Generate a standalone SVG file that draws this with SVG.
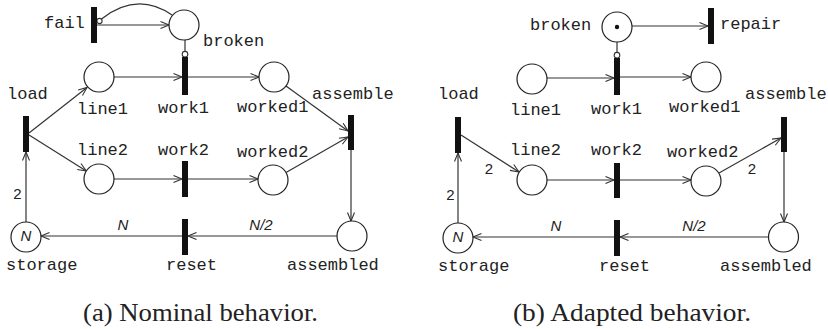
<svg xmlns="http://www.w3.org/2000/svg" width="828" height="329" viewBox="0 0 828 329">
  <defs>
    <marker id="arrow" markerUnits="userSpaceOnUse" markerWidth="12" markerHeight="10" refX="9" refY="4" orient="auto">
      <path d="M0.5,0.5 L9,4 L0.5,7.5" fill="none" stroke="#333" stroke-width="1.1"/>
    </marker>
  </defs>
  <style>
    .place { fill: #fff; stroke: #222; stroke-width: 1.2; }
    .trans { fill: #111; }
    .arc { fill: none; stroke: #333; stroke-width: 1.2; }
    .inh { fill: #fff; stroke: #333; stroke-width: 1.1; }
    .lbl { font-family: "Liberation Mono", "DejaVu Sans Mono", monospace; font-size: 17px; fill: #222; }
    .w { font-family: "Liberation Sans", Arial, sans-serif; font-size: 15px; fill: #222; }
    .wi { font-style: italic; }
    .cap { font-family: "Liberation Serif", "DejaVu Serif", serif; font-size: 26px; fill: #222; }
  </style>
  <rect width="828" height="329" fill="#fff"/>

  <!-- ===== (a) nominal net ===== -->
  <g id="a-connectors">
    <line class="arc" x1="97" y1="25" x2="169" y2="25" marker-end="url(#arrow)"/>
    <path class="arc" d="M101.5,19 Q137,-9 172,15"/>
    <circle class="inh" cx="99.5" cy="21" r="2.6"/>
    <line class="arc" x1="185" y1="40" x2="185" y2="51.5"/>
    <circle class="inh" cx="185" cy="54.2" r="2.8"/>
    <line class="arc" x1="114" y1="77" x2="182" y2="77" marker-end="url(#arrow)"/>
    <line class="arc" x1="188" y1="77" x2="259" y2="77" marker-end="url(#arrow)"/>
    <line class="arc" x1="29" y1="133" x2="87" y2="87.5" marker-end="url(#arrow)"/>
    <line class="arc" x1="29" y1="135" x2="86.3" y2="171" marker-end="url(#arrow)"/>
    <line class="arc" x1="114" y1="179" x2="182" y2="179" marker-end="url(#arrow)"/>
    <line class="arc" x1="188" y1="179" x2="258" y2="179" marker-end="url(#arrow)"/>
    <line class="arc" x1="286" y1="86" x2="348" y2="131" marker-end="url(#arrow)"/>
    <line class="arc" x1="286" y1="172.5" x2="348" y2="137" marker-end="url(#arrow)"/>
    <line class="arc" x1="351" y1="150" x2="351" y2="221" marker-end="url(#arrow)"/>
    <line class="arc" x1="337" y1="236" x2="188" y2="236" marker-end="url(#arrow)"/>
    <line class="arc" x1="182" y1="236" x2="41" y2="236" marker-end="url(#arrow)"/>
    <line class="arc" x1="26" y1="222" x2="26" y2="152" marker-end="url(#arrow)"/>
    <text class="w wi" x="261" y="230" text-anchor="middle">N/2</text>
    <text class="w wi" x="123" y="230" text-anchor="middle">N</text>
    <text class="w" x="17.5" y="199" text-anchor="middle">2</text>
  </g>

  <g id="a-fail"><rect class="trans" x="91" y="7" width="6" height="36"/><text class="lbl" x="44" y="28">fail</text></g>
  <g id="a-broken"><circle class="place" cx="184" cy="25" r="15"/><text class="lbl" x="203" y="46">broken</text></g>
  <g id="a-work1"><rect class="trans" x="182" y="57" width="6" height="38"/><text class="lbl" x="158" y="113">work1</text></g>
  <g id="a-line1"><circle class="place" cx="99" cy="77" r="15"/><text class="lbl" x="77" y="114">line1</text></g>
  <g id="a-worked1"><circle class="place" cx="274" cy="77" r="15"/><text class="lbl" x="237" y="112">worked1</text></g>
  <g id="a-load"><rect class="trans" x="23" y="116" width="6" height="36"/><text class="lbl" x="7" y="99">load</text></g>
  <g id="a-line2"><circle class="place" cx="99" cy="179" r="15"/><text class="lbl" x="77" y="155">line2</text></g>
  <g id="a-work2"><rect class="trans" x="182" y="161" width="6" height="36"/><text class="lbl" x="158" y="155">work2</text></g>
  <g id="a-worked2"><circle class="place" cx="273" cy="180" r="15"/><text class="lbl" x="237" y="157">worked2</text></g>
  <g id="a-assemble"><rect class="trans" x="348" y="115" width="6" height="35"/><text class="lbl" x="312" y="99">assemble</text></g>
  <g id="a-assembled"><circle class="place" cx="352" cy="236" r="15"/><text class="lbl" x="287" y="270">assembled</text></g>
  <g id="a-reset"><rect class="trans" x="182" y="219" width="6" height="36"/><text class="lbl" x="166" y="270">reset</text></g>
  <g id="a-storage"><circle class="place" cx="26" cy="237" r="15"/><text class="w wi" x="26" y="241" font-size="11" text-anchor="middle">N</text><text class="lbl" x="6" y="270">storage</text></g>

  <!-- ===== (b) adapted net ===== -->
  <g id="b-connectors">
    <line class="arc" x1="632" y1="26" x2="708" y2="26" marker-end="url(#arrow)"/>
    <line class="arc" x1="617" y1="42" x2="617" y2="52.5"/>
    <circle class="inh" cx="617" cy="55.2" r="2.8"/>
    <line class="arc" x1="547" y1="78" x2="614" y2="78" marker-end="url(#arrow)"/>
    <line class="arc" x1="620" y1="77" x2="691" y2="77" marker-end="url(#arrow)"/>
    <line class="arc" x1="461" y1="135" x2="519" y2="172" marker-end="url(#arrow)"/>
    <line class="arc" x1="547" y1="180" x2="614" y2="180" marker-end="url(#arrow)"/>
    <line class="arc" x1="620" y1="180" x2="691" y2="180" marker-end="url(#arrow)"/>
    <line class="arc" x1="719" y1="173" x2="781" y2="138" marker-end="url(#arrow)"/>
    <line class="arc" x1="784" y1="152" x2="784" y2="222" marker-end="url(#arrow)"/>
    <line class="arc" x1="768" y1="237" x2="620" y2="237" marker-end="url(#arrow)"/>
    <line class="arc" x1="614" y1="237" x2="473" y2="237" marker-end="url(#arrow)"/>
    <line class="arc" x1="458" y1="223" x2="458" y2="153" marker-end="url(#arrow)"/>
    <text class="w" x="489" y="174" text-anchor="middle">2</text>
    <text class="w" x="752" y="174" text-anchor="middle">2</text>
    <text class="w" x="450.5" y="200" text-anchor="middle">2</text>
    <text class="w wi" x="556" y="231" text-anchor="middle">N</text>
    <text class="w wi" x="694" y="231" text-anchor="middle">N/2</text>
  </g>

  <g id="b-broken"><circle class="place" cx="617" cy="27" r="15"/><circle cx="617" cy="27" r="2.2" fill="#111"/><text class="lbl" x="530" y="30">broken</text></g>
  <g id="b-repair"><rect class="trans" x="708" y="8" width="6" height="36"/><text class="lbl" x="720" y="29">repair</text></g>
  <g id="b-work1"><rect class="trans" x="614" y="58" width="6" height="37"/><text class="lbl" x="591" y="114">work1</text></g>
  <g id="b-line1"><circle class="place" cx="532" cy="79" r="15"/><text class="lbl" x="510" y="115">line1</text></g>
  <g id="b-worked1"><circle class="place" cx="706" cy="77" r="15"/><text class="lbl" x="669" y="112">worked1</text></g>
  <g id="b-load"><rect class="trans" x="455" y="117" width="6" height="36"/><text class="lbl" x="438" y="99">load</text></g>
  <g id="b-line2"><circle class="place" cx="532" cy="180" r="15"/><text class="lbl" x="510" y="155">line2</text></g>
  <g id="b-work2"><rect class="trans" x="614" y="163" width="6" height="35"/><text class="lbl" x="591" y="155">work2</text></g>
  <g id="b-worked2"><circle class="place" cx="706" cy="181" r="15"/><text class="lbl" x="667" y="157">worked2</text></g>
  <g id="b-assemble"><rect class="trans" x="781" y="117" width="6" height="35"/><text class="lbl" x="745" y="99">assemble</text></g>
  <g id="b-assembled"><circle class="place" cx="783.5" cy="237" r="15"/><text class="lbl" x="720" y="271">assembled</text></g>
  <g id="b-reset"><rect class="trans" x="614" y="220" width="6" height="36"/><text class="lbl" x="599" y="271">reset</text></g>
  <g id="b-storage"><circle class="place" cx="458" cy="238" r="15"/><text class="w wi" x="458" y="242" font-size="11" text-anchor="middle">N</text><text class="lbl" x="438" y="271">storage</text></g>

  <!-- captions -->
  <text class="cap" x="83" y="321" textLength="235" lengthAdjust="spacingAndGlyphs">(a) Nominal behavior.</text>
  <text class="cap" x="513" y="321" textLength="238" lengthAdjust="spacingAndGlyphs">(b) Adapted behavior.</text>
</svg>
